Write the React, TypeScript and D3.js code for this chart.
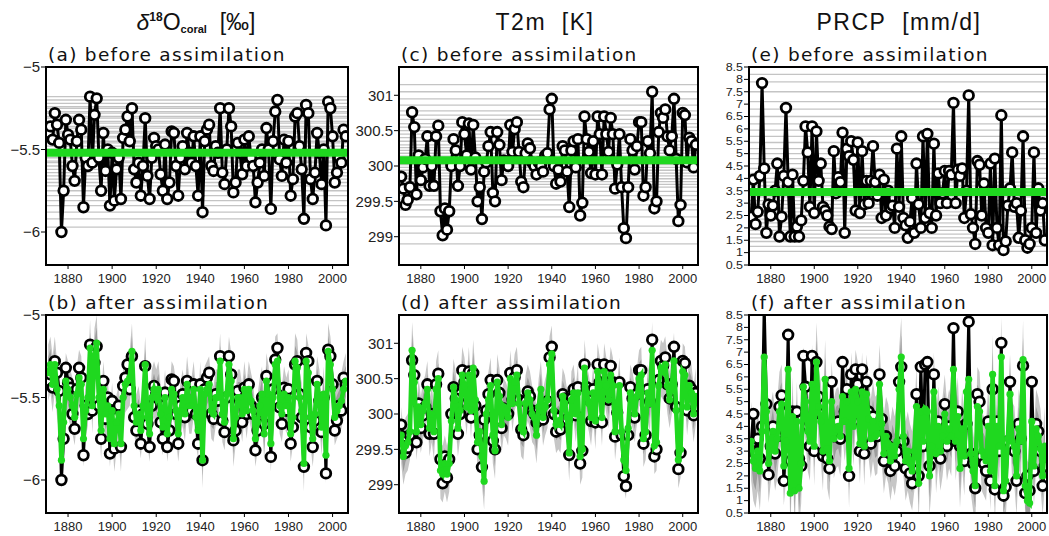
import React from "react";
import * as d3 from "d3";

// annual values, 1871 .. 2006
const FIRST_YEAR = 1871;

const o18Truth = [
  -5.40, -5.36, -5.44, -5.28, -5.35, -5.46, -6.00, -5.75, -5.32, -5.41,
  -5.44, -5.60, -5.69, -5.45, -5.32, -5.38, -5.85, -5.55, -5.60, -5.18,
  -5.58, -5.29, -5.19, -5.55, -5.75, -5.40, -5.63, -5.50, -5.84, -5.52,
  -5.81, -5.62, -5.55, -5.80, -5.43, -5.38, -5.30, -5.45, -5.25, -5.62,
  -5.70, -5.58, -5.78, -5.60, -5.31, -5.66, -5.80, -5.55, -5.43, -5.48,
  -5.50, -5.65, -5.75, -5.47, -5.80, -5.70, -5.39, -5.40, -5.60, -5.78,
  -5.55, -5.48, -5.62, -5.40, -5.52, -5.58, -5.42, -5.60, -5.78, -5.42,
  -5.88, -5.45, -5.38, -5.35, -5.60, -5.63, -5.48, -5.52, -5.25, -5.64,
  -5.71, -5.50, -5.25, -5.36, -5.76, -5.70, -5.46, -5.52, -5.65, -5.44,
  -5.60, -5.42, -5.55, -5.60, -5.82, -5.70, -5.58, -5.50, -5.66, -5.37,
  -5.50, -5.86, -5.45, -5.27, -5.20, -5.56, -5.66, -5.44, -5.58, -5.45,
  -5.78, -5.68, -5.30, -5.28, -5.48, -5.62, -5.92, -5.23, -5.28, -5.68,
  -5.80, -5.64, -5.40, -5.52, -5.71, -5.50, -5.96, -5.21, -5.25, -5.42,
  -5.70, -5.64, -5.55, -5.58, -5.38, -5.42,
];
const o18Analysis = [
  -5.35, -5.30, -5.42, -5.30, -5.45, -5.55, -5.88, -5.65, -5.40, -5.45,
  -5.50, -5.55, -5.62, -5.48, -5.38, -5.42, -5.75, -5.58, -5.50, -5.20,
  -5.55, -5.25, -5.17, -5.50, -5.70, -5.45, -5.60, -5.55, -5.75, -5.58,
  -5.78, -5.65, -5.60, -5.78, -5.50, -5.42, -5.40, -5.38, -5.22, -5.55,
  -5.65, -5.60, -5.70, -5.55, -5.30, -5.62, -5.72, -5.50, -5.45, -5.50,
  -5.45, -5.60, -5.68, -5.50, -5.72, -5.62, -5.45, -5.48, -5.58, -5.72,
  -5.58, -5.50, -5.60, -5.42, -5.55, -5.55, -5.45, -5.62, -5.70, -5.45,
  -5.88, -5.48, -5.45, -5.42, -5.58, -5.60, -5.50, -5.50, -5.28, -5.60,
  -5.65, -5.48, -5.30, -5.40, -5.75, -5.62, -5.50, -5.50, -5.60, -5.45,
  -5.58, -5.45, -5.52, -5.58, -5.75, -5.65, -5.55, -5.48, -5.72, -5.40,
  -5.48, -5.78, -5.50, -5.30, -5.28, -5.55, -5.60, -5.48, -5.55, -5.50,
  -5.72, -5.62, -5.28, -5.32, -5.50, -5.58, -5.90, -5.28, -5.35, -5.62,
  -5.75, -5.60, -5.42, -5.50, -5.68, -5.48, -5.85, -5.22, -5.30, -5.45,
  -5.62, -5.58, -5.55, -5.52, -5.45, -5.40,
];
const o18Prior = [
  -5.18, -5.20, -5.22, -5.24, -5.25, -5.27, -5.28, -5.30, -5.31, -5.33,
  -5.34, -5.36, -5.37, -5.39, -5.40, -5.42, -5.43, -5.45, -5.46, -5.48,
  -5.50, -5.51, -5.53, -5.55, -5.57, -5.58, -5.60, -5.62, -5.64, -5.66,
  -5.68, -5.70, -5.72, -5.75, -5.78, -5.81, -5.84, -5.88, -5.92, -5.97,
];
const o18PriorMean = -5.52;
const o18Spread = 0.17;

const t2mTruth = [
  299.85, 299.68, 299.45, 299.52, 299.70, 300.76, 300.55, 299.60, 300.15, 299.80,
  299.98, 300.10, 300.42, 299.72, 300.00, 299.72, 300.42, 300.57, 299.36, 299.02,
  299.40, 299.10, 299.36, 300.00, 300.38, 300.22, 299.72, 300.00, 300.62, 300.45,
  300.15, 300.60, 299.95, 300.58, 300.12, 299.50, 299.70, 299.25, 299.92, 300.05,
  300.28, 300.48, 299.62, 299.50, 300.48, 300.30, 299.80, 300.08, 300.02, 300.00,
  300.58, 300.20, 300.52, 300.62, 300.20, 299.78, 299.70, 300.18, 300.32, 300.25,
  300.05, 300.00, 299.88, 300.05, 300.00, 299.92, 300.15, 300.18, 300.80, 300.95,
  300.00, 299.75, 299.95, 299.78, 300.28, 300.22, 299.92, 299.42, 300.22, 300.35,
  299.98, 300.38, 299.30, 299.48, 300.70, 300.38, 300.20, 299.90, 300.35, 299.88,
  300.70, 300.45, 299.88, 300.70, 300.45, 300.20, 300.68, 300.45, 299.68, 300.02,
  300.45, 299.70, 299.12, 298.98, 299.70, 300.38, 300.22, 299.95, 300.28, 300.62,
  300.62, 299.58, 299.70, 300.35, 300.18, 301.05, 299.40, 299.50, 300.48, 300.75,
  300.68, 300.80, 300.42, 300.22, 300.42, 300.95, 300.10, 299.22, 299.45, 300.75,
  300.72, 300.05, 300.40, 300.35, 299.98, 300.30,
];
const t2mAnalysis = [
  299.70, 299.40, 299.55, 299.60, 299.75, 300.90, 300.45, 299.75, 300.10, 299.85,
  300.05, 300.15, 300.35, 299.80, 300.00, 299.75, 300.35, 300.50, 299.20, 299.15,
  299.30, 299.15, 299.30, 299.90, 300.38, 300.20, 299.80, 300.05, 300.55, 300.40,
  300.10, 300.55, 300.05, 300.65, 300.20, 299.60, 299.75, 299.40, 299.05, 300.00,
  300.20, 300.40, 299.70, 299.48, 300.45, 300.25, 299.85, 300.10, 300.05, 299.95,
  300.50, 300.15, 300.45, 300.55, 300.15, 299.80, 299.75, 300.15, 300.30, 300.20,
  300.00, 299.95, 299.70, 300.10, 300.35, 299.95, 300.10, 300.20, 300.70, 300.85,
  300.05, 299.85, 299.90, 299.85, 300.25, 300.15, 299.95, 299.45, 300.20, 300.30,
  300.00, 300.30, 299.40, 299.50, 300.65, 300.30, 300.15, 299.95, 300.30, 299.90,
  300.60, 300.40, 299.95, 300.60, 300.40, 300.20, 300.55, 300.40, 299.75, 300.05,
  300.40, 299.75, 299.35, 299.20, 299.80, 300.30, 300.20, 300.00, 300.25, 300.50,
  300.55, 299.65, 299.75, 300.30, 300.15, 300.90, 299.55, 299.60, 300.40, 300.65,
  300.60, 300.70, 300.40, 300.20, 300.40, 300.75, 300.05, 299.35, 299.50, 300.60,
  300.55, 300.10, 300.40, 300.30, 300.00, 300.25,
];
const t2mPrior = [
  298.90, 299.05, 299.15, 299.28, 299.38, 299.45, 299.52, 299.58, 299.64, 299.70,
  299.74, 299.78, 299.82, 299.86, 299.90, 299.94, 299.98, 300.02, 300.06, 300.10,
  300.14, 300.18, 300.22, 300.26, 300.30, 300.35, 300.40, 300.45, 300.50, 300.55,
  300.60, 300.66, 300.72, 300.78, 300.86, 300.95, 301.05, 301.15,
];
const t2mPriorMean = 300.08;
const t2mSpread = 0.4;

const prcpTruthBefore = [
  2.45, 3.95, 2.15, 2.65, 4.10, 7.85, 4.40, 1.80, 2.95, 2.50,
  2.90, 3.50, 4.60, 1.65, 2.45, 4.10, 6.85, 3.85, 1.65, 4.15,
  1.65, 2.05, 1.65, 2.30, 3.90, 6.10, 5.05, 2.85, 6.10, 2.60,
  5.90, 3.90, 4.60, 2.85, 2.70, 2.50, 2.05, 1.95, 5.10, 3.40,
  4.05, 3.85, 5.85, 1.80, 5.20, 4.90, 5.50, 4.75, 2.70, 5.45,
  2.60, 5.10, 2.95, 3.90, 3.00, 3.90, 5.30, 3.85, 3.30, 4.15,
  2.40, 3.95, 2.50, 3.50, 2.80, 2.90, 2.00, 5.20, 2.85, 5.70,
  2.40, 2.10, 1.60, 2.25, 3.20, 1.80, 4.60, 2.95, 2.00, 5.70,
  2.40, 5.80, 2.60, 2.00, 5.40, 2.50, 4.20, 3.00, 3.40, 4.30,
  3.00, 4.30, 4.15, 7.05, 3.00, 4.35, 4.10, 4.40, 2.40, 3.50,
  7.35, 2.55, 2.00, 1.35, 4.70, 4.55, 2.50, 3.80, 2.00, 1.80,
  4.60, 1.30, 4.80, 2.00, 1.30, 6.55, 1.10, 1.45, 2.90, 3.60,
  5.05, 2.85, 3.00, 1.60, 2.70, 5.70, 1.50, 1.20, 1.35, 2.00,
  5.05, 1.80, 3.60, 2.70, 3.00, 1.50,
];
const prcpTruthAfter = [
  3.30, 4.50, 2.90, 3.50, 2.70, 4.00, 8.80, 4.90, 2.05, 3.20,
  4.00, 2.90, 3.60, 4.80, 5.25, 1.80, 3.50, 7.70, 2.60, 4.60,
  1.80, 4.60, 2.70, 2.40, 6.85, 5.60, 4.00, 3.20, 6.85, 3.00,
  6.60, 5.20, 4.50, 2.80, 3.00, 2.70, 2.30, 5.80, 3.60, 4.00,
  4.20, 3.50, 6.60, 4.60, 5.50, 2.00, 6.10, 4.20, 6.30, 5.70,
  3.00, 6.30, 2.90, 5.80, 4.60, 3.30, 4.40, 3.80, 3.60, 6.10,
  4.30, 2.60, 3.60, 3.20, 2.20, 3.10, 2.40, 3.00, 5.80, 6.40,
  3.40, 2.30, 2.80, 2.10, 1.70, 2.60, 5.30, 2.00, 6.40, 3.20,
  6.50, 6.60, 2.40, 3.10, 6.10, 2.90, 4.20, 2.70, 3.60, 4.90,
  3.20, 4.00, 3.60, 7.97, 3.40, 4.60, 3.20, 4.00, 2.60, 4.10,
  8.23, 2.90, 2.50, 1.50, 5.30, 5.00, 2.80, 2.50, 2.20, 4.20,
  1.80, 5.50, 1.45, 4.20, 3.00, 7.37, 1.20, 1.55, 3.40, 5.80,
  3.20, 3.00, 1.80, 4.10, 3.50, 6.45, 1.30, 2.00, 1.40, 5.80,
  2.20, 4.10, 3.80, 3.00, 1.60, 2.40,
];
const prcpAnalysis = [
  3.40, 2.60, 2.30, 3.00, 2.20, 3.80, 6.80, 4.60, 2.50, 3.30,
  3.80, 3.00, 3.50, 4.60, 4.90, 2.40, 3.40, 6.30, 1.30, 4.40,
  1.40, 4.20, 1.50, 2.50, 5.60, 5.00, 3.80, 3.40, 5.70, 3.20,
  6.60, 4.80, 4.20, 3.00, 5.90, 3.10, 2.60, 5.00, 3.50, 3.90,
  4.00, 3.60, 5.20, 4.20, 5.00, 2.30, 5.40, 4.00, 5.50, 5.00,
  3.30, 5.40, 3.20, 5.30, 4.30, 3.50, 4.20, 3.60, 3.70, 5.70,
  4.10, 2.90, 3.60, 3.30, 2.60, 3.20, 2.80, 3.40, 5.50, 6.80,
  3.60, 2.60, 3.00, 2.50, 2.20, 3.00, 4.80, 1.70, 4.60, 3.40,
  4.70, 4.60, 2.00, 3.20, 5.40, 2.90, 4.00, 3.00, 3.60, 4.50,
  3.40, 3.90, 3.60, 6.30, 3.40, 4.40, 2.30, 3.90, 2.80, 5.40,
  5.90, 2.90, 2.20, 1.60, 4.80, 4.60, 3.00, 2.80, 2.60, 4.00,
  2.20, 6.10, 1.60, 4.00, 3.20, 6.80, 1.40, 1.80, 3.50, 5.30,
  3.40, 3.20, 2.00, 3.90, 3.40, 6.70, 1.60, 1.00, 0.90, 4.20,
  2.40, 3.90, 3.60, 3.10, 2.00, 3.20,
];
const prcpPrior = [
  1.05, 1.25, 1.45, 1.60, 1.75, 1.90, 2.05, 2.20, 2.35, 2.50,
  2.65, 2.80, 2.95, 3.10, 3.25, 3.40, 3.55, 3.70, 3.85, 4.00,
  4.20, 4.40, 4.60, 4.80, 5.00, 5.20, 5.45, 5.70, 5.95, 6.20,
  6.50, 6.80, 7.10, 7.50, 7.90, 8.20,
];
const prcpPriorMean = 3.45;
const prcpSpread = 1.6;

const xTicks = [1880, 1900, 1920, 1940, 1960, 1980, 2000];
const o18Ticks = [-5, -5.5, -6];
const t2mTicks = [299, 299.5, 300, 300.5, 301];
const prcpTicks = [0.5, 1, 1.5, 2, 2.5, 3, 3.5, 4, 4.5, 5, 5.5, 6, 6.5, 7, 7.5, 8, 8.5];

const GREEN = "#1fd81f";
const SUB_FONT = "'DejaVu Sans', sans-serif";
const NUM_FONT = "'Liberation Sans', Arial, sans-serif";

type PanelProps = {
  id: string;
  left: number;
  top: number;
  width: number;
  height: number;
  label: string;
  yDomain: [number, number];
  yTicks: number[];
  tickSize: number;
  tickSquash?: number;
  truth: number[];
  prior?: number[];
  priorMean?: number;
  analysis?: number[];
  spread?: number;
};

function Panel(p: PanelProps) {
  const x = d3.scaleLinear().domain([1870, 2007]).range([0, p.width]);
  const y = d3.scaleLinear().domain(p.yDomain).range([p.height, 0]);
  const yr = (i: number) => x(FIRST_YEAR + i);
  const line = d3.line<number>().x((_, i) => yr(i)).y((d) => y(d));
  const fmt = (v: number) => (v < 0 ? "\u2212" + String(-v) : String(v));
  const squash = p.tickSquash || 1;

  let band = null;
  if (p.analysis && p.spread) {
    const s = p.spread;
    const outer = d3.area<number>().x((_, i) => yr(i)).y0((d) => y(d - s)).y1((d) => y(d + s));
    const inner = d3.area<number>().x((_, i) => yr(i)).y0((d) => y(d - s * 0.55)).y1((d) => y(d + s * 0.55));
    band = (
      <g>
        <path d={outer(p.analysis) || ""} fill="#c6c6c6" />
        <path d={inner(p.analysis) || ""} fill="#9c9c9c" />
      </g>
    );
  }

  return (
    <g transform={`translate(${p.left},${p.top})`}>
      <defs>
        <clipPath id={p.id}>
          <rect x={0} y={0} width={p.width} height={p.height} />
        </clipPath>
      </defs>
      <text x={2} y={-6} fontFamily={SUB_FONT} fontSize={18.5} letterSpacing={1.3} fill="#111">
        {p.label}
      </text>
      <rect width={p.width} height={p.height} fill="#fff" />
      <g clipPath={`url(#${p.id})`}>
        {p.prior &&
          p.prior.map((v, i) => (
            <line key={i} x1={0} x2={p.width} y1={y(v)} y2={y(v)} stroke="#c4c4c4" strokeWidth={1.3} />
          ))}
        {band}
        <path d={line(p.truth) || ""} fill="none" stroke="#000" strokeWidth={3} />
        {p.truth.map((v, i) => (
          <circle key={i} cx={yr(i)} cy={y(v)} r={4.8} fill="#fff" stroke="#000" strokeWidth={2.8} />
        ))}
        {p.priorMean !== undefined && (
          <line x1={0} x2={p.width} y1={y(p.priorMean)} y2={y(p.priorMean)} stroke={GREEN} strokeWidth={8} />
        )}
        {p.analysis && (
          <g>
            <path d={line(p.analysis) || ""} fill="none" stroke={GREEN} strokeWidth={4.6} />
            {p.analysis.map((v, i) => (
              <circle key={i} cx={yr(i)} cy={y(v)} r={3.6} fill={GREEN} />
            ))}
          </g>
        )}
      </g>
      <rect width={p.width} height={p.height} fill="none" stroke="#000" strokeWidth={2} />
      {xTicks.map((t) => (
        <g key={t} transform={`translate(${x(t)},${p.height})`}>
          <line y1={0} y2={4} stroke="#000" strokeWidth={1} />
          <text y={18} textAnchor="middle" fontFamily={NUM_FONT} fontSize={13} fill="#222">
            {t}
          </text>
        </g>
      ))}
      {p.yTicks.map((t) => (
        <g key={t} transform={`translate(0,${y(t)})`}>
          <line x1={-5} x2={0} stroke="#000" strokeWidth={1} />
          <text x={-6} dy="0.36em" textAnchor="end" fontFamily={NUM_FONT} fontSize={p.tickSize}
            transform={`scale(1,${squash})`} fill="#222">
            {fmt(t)}
          </text>
        </g>
      ))}
    </g>
  );
}

export default function App() {
  const colLeft = [46, 399, 749];
  const rowTop = [67, 315];
  const pw = 301;
  const ph = 198;
  return (
    <svg width={1049} height={536} style={{ display: "block", position: "absolute", left: 0, top: 0 }}>
      <rect width={1049} height={536} fill="#fff" />
      <text x={196} y={30} textAnchor="middle" fontFamily={NUM_FONT} fontSize={23} fill="#111">
        <tspan fontStyle="italic">δ</tspan>
        <tspan fontSize={12} dy={-9} fontWeight="bold">18</tspan>
        <tspan dy={9}>O</tspan>
        <tspan fontSize={11} fontWeight="bold" dy={3}>coral</tspan>
        <tspan dy={-3}>{"\u00a0\u00a0[‰]"}</tspan>
      </text>
      <text x={545} y={30} textAnchor="middle" fontFamily={NUM_FONT} fontSize={23} letterSpacing={1.5} fill="#111">
        {"T2m\u00a0\u00a0[K]"}
      </text>
      <text x={899} y={30} textAnchor="middle" fontFamily={NUM_FONT} fontSize={23} letterSpacing={1.5} fill="#111">
        {"PRCP\u00a0\u00a0[mm/d]"}
      </text>

      <Panel id="ca" left={colLeft[0]} top={rowTop[0]} width={pw + 1} height={ph} label="(a) before assimilation"
        yDomain={[-6.2, -5]} yTicks={o18Ticks} tickSize={15} truth={o18Truth} prior={o18Prior} priorMean={o18PriorMean} />
      <Panel id="cb" left={colLeft[0]} top={rowTop[1]} width={pw + 1} height={ph} label="(b) after assimilation"
        yDomain={[-6.2, -5]} yTicks={o18Ticks} tickSize={15} truth={o18Truth} analysis={o18Analysis} spread={o18Spread} />
      <Panel id="cc" left={colLeft[1]} top={rowTop[0]} width={pw - 2} height={ph} label="(c) before assimilation"
        yDomain={[298.6, 301.4]} yTicks={t2mTicks} tickSize={15} truth={t2mTruth} prior={t2mPrior} priorMean={t2mPriorMean} />
      <Panel id="cd" left={colLeft[1]} top={rowTop[1]} width={pw - 2} height={ph} label="(d) after assimilation"
        yDomain={[298.6, 301.4]} yTicks={t2mTicks} tickSize={15} truth={t2mTruth} analysis={t2mAnalysis} spread={t2mSpread} />
      <Panel id="ce" left={colLeft[2]} top={rowTop[0]} width={pw - 3} height={ph} label="(e) before assimilation"
        yDomain={[0.5, 8.5]} yTicks={prcpTicks} tickSize={12.5} tickSquash={0.85} truth={prcpTruthBefore} prior={prcpPrior} priorMean={prcpPriorMean} />
      <Panel id="cf" left={colLeft[2]} top={rowTop[1]} width={pw - 3} height={ph} label="(f) after assimilation"
        yDomain={[0.5, 8.5]} yTicks={prcpTicks} tickSize={12.5} tickSquash={0.85} truth={prcpTruthAfter} analysis={prcpAnalysis} spread={prcpSpread} />
    </svg>
  );
}
